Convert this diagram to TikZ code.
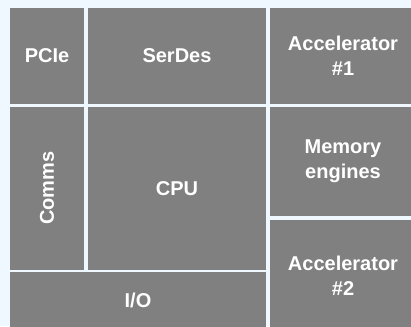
\documentclass[tikz,border=0pt]{standalone}
\usepackage{fontspec}
\setmainfont{Liberation Sans}
\definecolor{pagebg}{HTML}{F0F8FF}
\definecolor{blockgray}{HTML}{808080}
\begin{document}
\begin{tikzpicture}[x=1pt,y=-1pt,
  blockbox/.style={fill=blockgray, draw=none, inner sep=0pt, outer sep=0pt,
    text=white, align=center,
    font=\fontsize{20}{25}\selectfont\bfseries}]
  % page background and fixed frame
  \fill[pagebg] (0,0) rectangle (411,326);
  \useasboundingbox (0,0) rectangle (411,326);

  % top row
  \node[blockbox, minimum width=74pt,  minimum height=96pt] (pcie)   at (47,56)  {PCIe};
  \node[blockbox, minimum width=178pt, minimum height=96pt] (serdes) at (177,56) {SerDes};
  \node[blockbox, minimum width=146pt, minimum height=96pt] (acc1)   at (343,56) {Accelerator\\\#1};

  % middle
  \node[blockbox, rotate=90, minimum width=162.5pt, minimum height=74pt] (comms) at (47,188.25) {Comms};
  \node[blockbox, minimum width=178pt, minimum height=163pt] (cpu)  at (177,188.5) {CPU};
  \node[blockbox, minimum width=146pt, minimum height=109pt] (mem)  at (343,161.5) {Memory\\engines};

  % bottom
  \node[blockbox, minimum width=146pt, minimum height=112pt] (acc2) at (343,276)   {Accelerator\\\#2};
  \node[blockbox, minimum width=256pt, minimum height=57pt]  (io)   at (138,300.5) {I/O};
\end{tikzpicture}
\end{document}
